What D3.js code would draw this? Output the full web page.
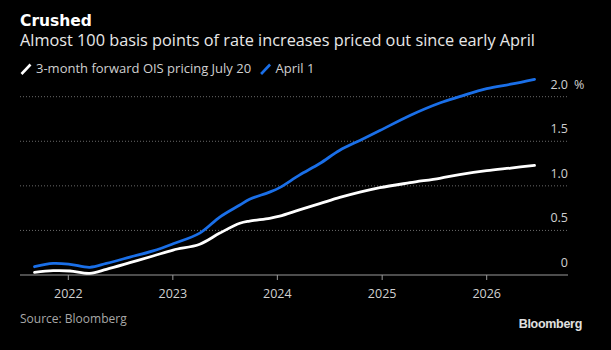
<!DOCTYPE html>
<html>
<head>
<meta charset="utf-8">
<script src="https://cdn.jsdelivr.net/npm/d3@7"></script>
<style>
  body { margin: 0; background: #000; }
  svg { display: block; }
</style>
</head>
<body>
<svg id="display"></svg>
<script>
// data
let dates = ['2021-09-05', '2021-11-09', '2022-01-07', '2022-03-17', '2022-05-14', '2022-08-04',
  '2022-10-24', '2023-01-02', '2023-04-05', '2023-06-14', '2023-08-23', '2023-09-26',
  '2023-12-05', '2024-01-09', '2024-03-18', '2024-05-28', '2024-08-06', '2024-10-15',
  '2024-12-24', '2025-04-08', '2025-07-21', '2025-09-28', '2026-01-01', '2026-03-26', '2026-06-17']
let july20 = [0.03, 0.048, 0.045, 0.019, 0.064, 0.138, 0.213, 0.28, 0.345, 0.47, 0.58, 0.605,
  0.636, 0.66, 0.73, 0.8, 0.87, 0.93, 0.98, 1.035, 1.085, 1.125, 1.17, 1.2, 1.23]
let april1 = [0.093, 0.13, 0.12, 0.086, 0.13, 0.2, 0.27, 0.35, 0.47, 0.65, 0.785, 0.85,
  0.93, 0.98, 1.12, 1.25, 1.4, 1.51, 1.62, 1.79, 1.93, 2.0, 2.09, 2.14, 2.195]
let yTicks = [0, 0.5, 1, 1.5, 2]
let xTicks = ['2022', '2023', '2024', '2025', '2026']
let seriesNames = ['3-month forward OIS pricing July 20', 'April 1']
let colors = ['#ffffff', '#1a6fe8']

let width = 611
let height = 350
let font = 'Open Sans, Liberation Sans, sans-serif'

let svg = d3.select('#display')
  .attr('width', width)
  .attr('height', height)
  .style('background', '#000')

const parse = d3.timeParse('%Y-%m-%d')

const xScale = d3.scaleTime()
  .domain([parse('2022-01-01'), parse('2026-01-01')])
  .range([68.3, 486.7])

const yScale = d3.scaleLinear()
  .domain([0, 2])
  .range([275, 96.7])

let left = 20
let right = 568

// headline
svg.append('text')
  .attr('x', 20).attr('y', 26)
  .attr('fill', '#fff')
  .style('font-family', 'DejaVu Sans, sans-serif')
  .style('font-weight', 'bold')
  .style('font-size', '15.5px')
  .text('Crushed')

svg.append('text')
  .attr('x', 20).attr('y', 46)
  .attr('fill', '#e8e8e8')
  .style('font-family', font)
  .style('font-size', '16.3px')
  .text('Almost 100 basis points of rate increases priced out since early April')

// legend
let lx = 21.5
seriesNames.forEach((name, i) => {
  svg.append('line')
    .attr('x1', lx).attr('y1', 74)
    .attr('x2', lx + 9).attr('y2', 64.5)
    .attr('stroke', colors[i])
    .attr('stroke-width', 2.6)
  let t = svg.append('text')
    .attr('x', lx + 14.5).attr('y', 72.7)
    .attr('fill', '#d0d0d0')
    .style('font-family', font)
    .style('font-size', '13px')
    .text(name)
  lx = lx + 14.5 + t.node().getComputedTextLength() + 10
})

// grid
svg.append('g')
  .selectAll('line')
  .data(yTicks.filter(d => d > 0))
  .enter()
  .append('line')
  .attr('x1', left).attr('x2', right)
  .attr('y1', d => yScale(d)).attr('y2', d => yScale(d))
  .attr('stroke', '#6a6a6a')
  .attr('stroke-width', 1)
  .attr('stroke-dasharray', '1,2')

// y labels on the right
svg.append('g')
  .selectAll('text')
  .data(yTicks)
  .enter()
  .append('text')
  .attr('x', right)
  .attr('y', d => yScale(d) - 8)
  .attr('text-anchor', 'end')
  .attr('fill', '#d0d0d0')
  .style('font-family', font)
  .style('font-size', '12.5px')
  .text(d => d == 0 ? '0' : d3.format('.1f')(d))

svg.append('text')
  .attr('x', right + 6)
  .attr('y', yScale(2) - 8)
  .attr('fill', '#d0d0d0')
  .style('font-family', font)
  .style('font-size', '12.5px')
  .text('%')

// x axis
let xAxis = svg.append('g')
xAxis.append('line')
  .attr('x1', left).attr('x2', right)
  .attr('y1', yScale(0)).attr('y2', yScale(0))
  .attr('stroke', '#9a9a9a')
  .attr('stroke-width', 1)

let ticks = xAxis.selectAll('g.tick')
  .data(xTicks)
  .enter()
  .append('g')
  .attr('transform', d => 'translate(' + xScale(parse(d + '-01-01')) + ',0)')

ticks.append('line')
  .attr('y1', yScale(0)).attr('y2', yScale(0) + 5)
  .attr('stroke', '#9a9a9a')

ticks.append('text')
  .attr('y', 297.5)
  .attr('text-anchor', 'middle')
  .attr('fill', '#d0d0d0')
  .style('font-family', font)
  .style('font-size', '12.5px')
  .text(d => d)

// lines
const line = d3.line()
  .x(d => xScale(d.date))
  .y(d => yScale(d.value))
  .curve(d3.curveCatmullRom.alpha(0.5))

let series = [july20, april1].map((vals, i) => {
  return {
    color: colors[i],
    points: vals.map((v, j) => ({ date: parse(dates[j]), value: v }))
  }
})

svg.append('g')
  .selectAll('path')
  .data(series.slice().reverse())
  .enter()
  .append('path')
  .attr('d', d => line(d.points))
  .attr('fill', 'none')
  .attr('stroke', d => d.color)
  .attr('stroke-width', 2.8)
  .attr('stroke-linejoin', 'round')
  .attr('stroke-linecap', 'round')

// footer
svg.append('text')
  .attr('x', 20).attr('y', 323)
  .attr('fill', '#a8a8a8')
  .style('font-family', font)
  .style('font-size', '12px')
  .text('Source: Bloomberg')

svg.append('text')
  .attr('x', 582).attr('y', 328)
  .attr('text-anchor', 'end')
  .attr('fill', '#e0e0e0')
  .style('font-family', 'Liberation Sans, Arial, sans-serif')
  .style('font-weight', 'bold')
  .style('font-size', '12.5px')
  .style('letter-spacing', '-0.3px')
  .text('Bloomberg')
</script>
</body>
</html>
